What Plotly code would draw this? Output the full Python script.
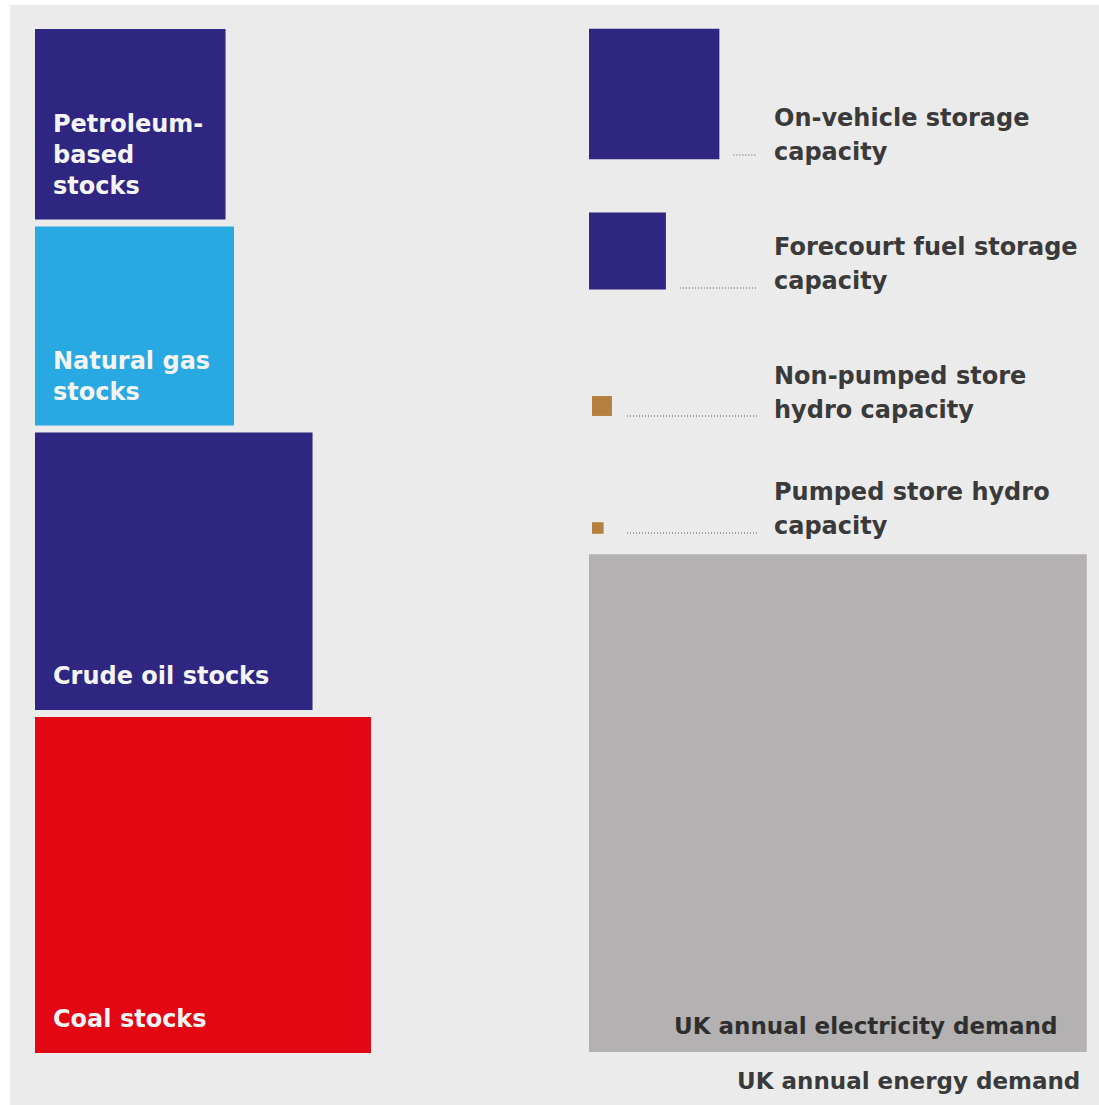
import numpy as np
import plotly.graph_objects as go

# ---------------- data (energy, TWh-equivalent, read from square areas) ----------------
left_names = ["Petroleum-based stocks", "Natural gas stocks", "Crude oil stocks", "Coal stocks"]
left_labels = ["Petroleum-<br>based<br>stocks", "Natural gas<br>stocks", "Crude oil stocks", "Coal stocks"]
left_twh = [48.5, 52.9, 102.9, 150.8]

right_names = ["On-vehicle storage capacity", "Forecourt fuel storage capacity",
               "Non-pumped store hydro capacity", "Pumped store hydro capacity"]
right_labels = ["On-vehicle storage<br>capacity", "Forecourt fuel storage<br>capacity",
                "Non-pumped store<br>hydro capacity", "Pumped store hydro<br>capacity"]
right_twh = [22.7, 7.9, 0.53, 0.18]

demand_name = "UK annual electricity demand"
demand_twh = [331.0]
total_label = "UK annual energy demand"

# ---------------- styles / layout constants ----------------
NAVY, CYAN, RED, GREY, BROWN = "#2e2680", "#29a9e1", "#e30613", "#b3b1b2", "#b5803f"
left_colors = [NAVY, CYAN, NAVY, RED]
right_colors = [NAVY, NAVY, BROWN, BROWN]
PX_PER_ROOT = 27.36          # pixels per sqrt(TWh)
FONT = "DejaVu Sans"
W, H = 1099, 1105

def side(v):
    return float(np.sqrt(v) * PX_PER_ROOT)

fig = go.Figure()

def square(x0, y0, s, color, name):
    xs = [x0, x0 + s, x0 + s, x0, x0]
    ys = [y0, y0, y0 + s, y0 + s, y0]
    fig.add_trace(go.Scatter(x=xs, y=ys, mode="lines", fill="toself", fillcolor=color,
                             line=dict(width=0, color=color), name=name,
                             hoveron="fills", hoverinfo="name", showlegend=False))

annotations = []

# left column: stacked squares
LEFT_X, TOP, GAP = 35, 29, 7
y = TOP
for name, lab, v, c in zip(left_names, left_labels, left_twh, left_colors):
    s = side(v)
    square(LEFT_X, y, s, c, name)
    annotations.append(dict(x=LEFT_X + 16, y=y + s - 18, text=lab, xanchor="left", yanchor="bottom",
                            align="left", showarrow=False,
                            font=dict(family=FONT, size=24, color="#f4f4f4", weight="bold")))
    y += s + GAP

# right column
row_x = [589, 589, 592, 592]
row_center = [94, 251, 406, 528]
label_mid = [135, 264, 393, 509]
leader_y = [155, 288, 416, 533]
TEXT_X, LEADER_END, LINE_SP = 772, 757, 34
for name, lab, v, c, x0, yc, ym, ly in zip(right_names, right_labels, right_twh, right_colors,
                                           row_x, row_center, label_mid, leader_y):
    s = side(v)
    square(x0, yc - s / 2, s, c, name)
    lx0 = max(x0 + s + 14, 627)
    fig.add_trace(go.Scatter(x=[lx0, LEADER_END], y=[ly, ly], mode="lines",
                             line=dict(color="#555555", width=1, dash="1px,2px"),
                             hoverinfo="skip", showlegend=False))
    lines = lab.split("<br>")
    n = len(lines)
    for i, t in enumerate(lines):
        annotations.append(dict(x=TEXT_X, y=ym + (i - (n - 1) / 2) * LINE_SP, text=t,
                                xanchor="left", yanchor="middle", align="left", showarrow=False,
                                font=dict(family=FONT, size=24, color="#3a3a3a", weight="bold")))

# electricity demand square (bottom aligned with left column)
s = side(demand_twh[0])
bottom = 1052
square(589, bottom - s, s, GREY, demand_name)
annotations.append(dict(x=1059, y=bottom - 11, text=demand_name, xanchor="right", yanchor="bottom",
                        showarrow=False, font=dict(family=FONT, size=23, color="#2e2e2e", weight="bold")))
annotations.append(dict(x=1082, y=1081, text=total_label, xanchor="right", yanchor="middle",
                        showarrow=False, font=dict(family=FONT, size=23, color="#3a3a3a", weight="bold")))

fig.update_layout(
    width=W, height=H, autosize=False,
    margin=dict(l=0, r=0, t=0, b=0),
    paper_bgcolor="white", plot_bgcolor="white",
    xaxis=dict(range=[0, W], visible=False, fixedrange=True),
    yaxis=dict(range=[H, 0], visible=False, fixedrange=True),
    shapes=[dict(type="rect", xref="x", yref="y", x0=10, y0=5, x1=W, y1=H,
                 fillcolor="#ebebeb", line=dict(width=0), layer="below")],
    annotations=annotations,
    showlegend=False,
)

fig.write_html("out.html", config={"displayModeBar": False},
               post_script="document.body.style.margin='0';document.body.style.overflow='hidden';")
